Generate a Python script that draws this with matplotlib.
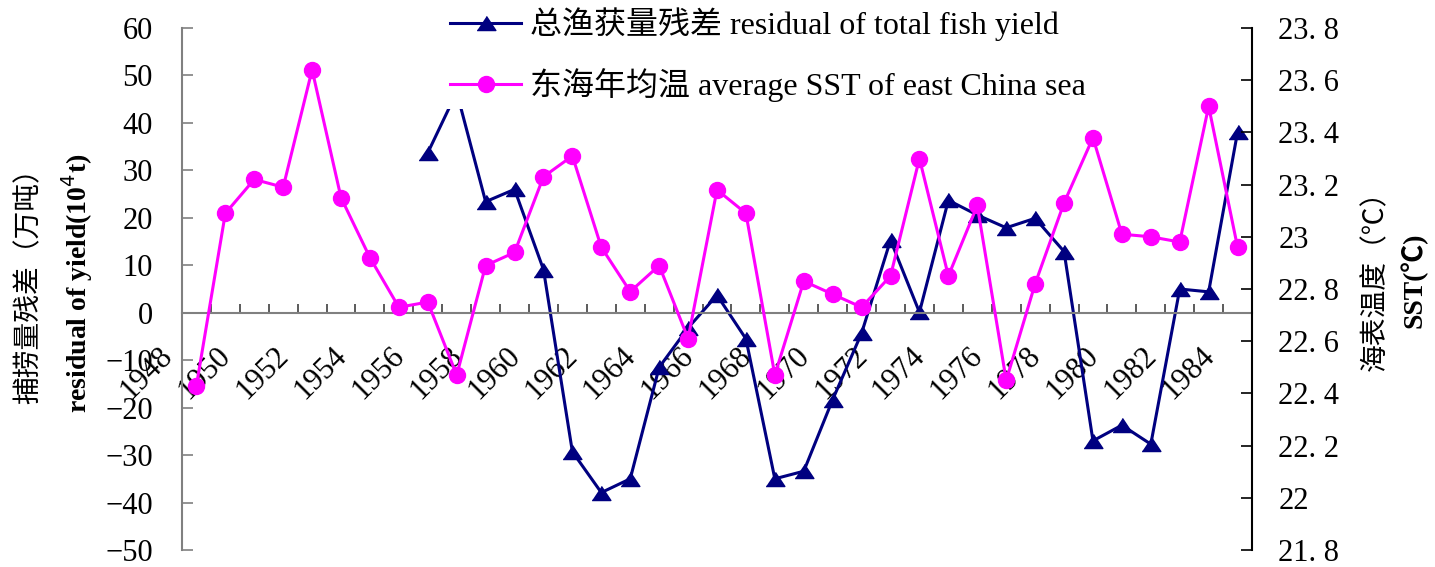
import matplotlib
matplotlib.use("Agg")
import matplotlib.pyplot as plt
from matplotlib.transforms import ScaledTranslation

plt.rcParams['font.family'] = ['Liberation Serif', 'Noto Sans CJK SC']
plt.rcParams['axes.unicode_minus'] = True

# 东海年均温 (°C), 1948-1984
years = list(range(1948, 1985))
sst = [22.43, 23.09, 23.22, 23.19, 23.64, 23.15, 22.92, 22.73, 22.75, 22.47,
       22.89, 22.94, 23.23, 23.31, 22.96, 22.79, 22.89, 22.61, 23.18, 23.09,
       22.47, 22.83, 22.78, 22.73, 22.85, 23.30, 22.85, 23.12, 22.45, 22.82,
       23.13, 23.38, 23.01, 23.00, 22.98, 23.50, 22.96]

# 总渔获量残差 (万吨), 1956-1984
resid_years = list(range(1956, 1985))
resid = [33.7, 46.5, 23.4, 26.0, 9.1, -29.3, -37.9, -35.0, -11.5, -3.2,
         3.7, -5.5, -35.0, -33.4, -18.3, -4.3, 15.3, 0.1, 23.7, 20.6,
         17.9, 19.9, 12.9, -27.0, -23.7, -27.7, 5.0, 4.4, 38.1]

left_ticks = list(range(-50, 61, 10))
right_ticks = [21.8, 22.0, 22.2, 22.4, 22.6, 22.8, 23.0, 23.2, 23.4, 23.6, 23.8]
right_labels = ['21. 8', '22', '22. 2', '22. 4', '22. 6', '22. 8', '23',
                '23. 2', '23. 4', '23. 6', '23. 8']

navy = '#000080'
magenta = '#FF00FF'
fs = 22

# flat triangle marker, a bit wider than tall
tri = [(-1, -0.75), (1, -0.75), (0, 0.75)]

fig = plt.figure(figsize=(14.35, 5.67), dpi=100)
ax = fig.add_axes([0.1268, 0.030, 0.7457, 0.9206])
ax2 = ax.twinx()

l1, = ax.plot(resid_years, resid, color=navy, lw=2.2, marker=tri, ms=13.5,
              label='总渔获量残差 residual of total fish yield')
l2, = ax2.plot(years, sst, color=magenta, lw=2.2, marker='o', ms=11.5,
               label='东海年均温 average SST of east China sea')

ax.set_xlim(years[0] - 0.5, years[-1] + 0.5)
ax.set_ylim(-50, 60)
ax2.set_ylim(21.8, 23.8)

# left axis
ax.set_yticks(left_ticks)
ax.tick_params(axis='y', direction='in', length=8, width=1.2, color='#808080',
               labelsize=fs, pad=21)
ax.spines['left'].set_color('#808080')
ax.spines['left'].set_linewidth(1.5)
ax.spines['top'].set_visible(False)
ax.spines['right'].set_visible(False)
ax.spines['bottom'].set_position(('data', 0))
ax.spines['bottom'].set_color('#808080')
ax.spines['bottom'].set_linewidth(1.5)

# category boundary ticks on the zero line, year labels every two years
bounds = [y - 0.5 for y in years] + [years[-1] + 0.5]
ax.set_xticks(bounds)
ax.set_xticklabels([])
ax.tick_params(axis='x', which='major', direction='in', length=6.5, width=1.2,
               color='#404040')
ax.set_xticks(years[::2], labels=[str(y) for y in years[::2]], minor=True)
ax.tick_params(axis='x', which='minor', length=0, labelsize=fs, pad=28)
shift = ScaledTranslation(-20 / 72, 0, fig.dpi_scale_trans)
for lab in ax.get_xticklabels(minor=True):
    lab.set_rotation(45)
    lab.set_rotation_mode('anchor')
    lab.set_ha('right')
    lab.set_va('center')
    lab.set_transform(lab.get_transform() + shift)

# right axis
ax2.set_yticks(right_ticks, labels=right_labels)
ax2.tick_params(axis='y', direction='in', length=8, width=1.2, color='black',
                labelsize=fs, pad=19)
for s in ['left', 'top', 'bottom']:
    ax2.spines[s].set_visible(False)
ax2.spines['right'].set_linewidth(1.5)

# axis titles
fig.text(0.020, 0.508, '捕捞量残差（万吨）', rotation=90, ha='center', va='center',
         fontsize=20, family=['Noto Sans CJK SC'], fontweight='light')
fig.text(0.054, 0.500, 'residual of yield(10$^4$t)', rotation=90, ha='center',
         va='center', fontsize=20, fontweight='bold')
fig.text(0.958, 0.517, '海表温度（℃）', rotation=90, ha='center', va='center',
         fontsize=20, family=['Noto Sans CJK SC'], fontweight='light')
fig.text(0.985, 0.506, 'SST(℃)', rotation=90, ha='center', va='center',
         fontsize=20, fontweight='bold')

# white legend box sits over the top of the plot area
leg = fig.legend(handles=[l1, l2], loc='upper left', bbox_to_anchor=(0.309, 1.0),
                 fontsize=23, frameon=True, facecolor='white', edgecolor='none',
                 framealpha=1, fancybox=False, handlelength=2.2,
                 handletextpad=0.28, labelspacing=0.85, borderpad=0.22,
                 borderaxespad=0)
leg.set_zorder(10)

fig.savefig('out.png', dpi=100)
